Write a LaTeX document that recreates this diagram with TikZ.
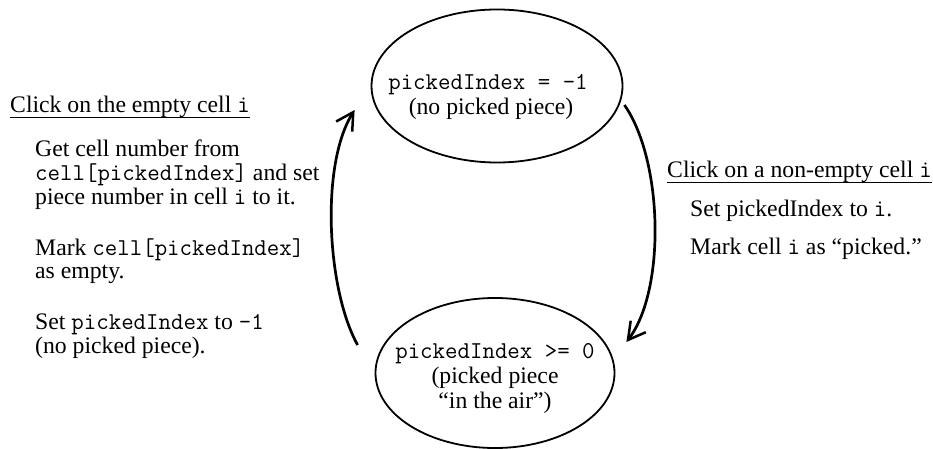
\documentclass[tikz,border=0pt]{standalone}
\usepackage{fontspec}
\setmainfont{Liberation Serif}
\usetikzlibrary{arrows.meta,shapes.geometric}

% code words inside running text (Latin Modern typewriter)
\newcommand\mono[1]{{\fontsize{24.2}{25}\ttfamily #1}}

\begin{document}
\begin{tikzpicture}[x=1pt,y=-1pt,
  txt/.style={inner sep=0pt, anchor=base west, font=\fontsize{23.7}{25}\selectfont},
  ctxt/.style={inner sep=0pt, anchor=base, font=\fontsize{23.7}{25}\selectfont},
  state/.style={draw, ellipse, line width=1.8pt, inner sep=0pt},
  uline/.style={line width=1.4pt},
  trans/.style={line width=2.7pt, -{Straight Barb[length=17pt,width=19pt,line width=2.5pt]}}]
\useasboundingbox (0,0) rectangle (933,449);

% the two states
\node[state, minimum width=251pt, minimum height=153pt] (top) at (497,86) {};
\node[state, minimum width=239pt, minimum height=150pt] (bot) at (495,373) {};

\node[ctxt] (top1) at (488,90) {\mono{pickedIndex = -1}};
\node[ctxt] (top2) at (491,115) {(no picked piece)};

\node[ctxt] (bot1) at (495,358) {\mono{pickedIndex >= 0}};
\node[ctxt] (bot2) at (495,383) {(picked piece};
\node[ctxt] (bot3) at (495,408) {“in the air”)};

% left transition: empty cell clicked
\node[txt] (lt) at (10,113) {Click on the empty cell \mono{i}};
\draw[uline] ([yshift=-4.5pt]lt.base west) -- ([yshift=-4.5pt]lt.base east);
\node[txt] (l1) at (35,157) {Get cell number from};
\node[txt] (l2) at (35,180.5) {\mono{cell[pickedIndex]} and set};
\node[txt] (l3) at (35,204) {piece number in cell \mono{i} to it.};
\node[txt] (l4) at (35,255) {Mark \mono{cell[pickedIndex]}};
\node[txt] (l5) at (35,278.5) {as empty.};
\node[txt] (l6) at (35,329.5) {Set \mono{pickedIndex} to \mono{-1}};
\node[txt] (l7) at (35,353) {(no picked piece).};

% right transition: non-empty cell clicked
\node[txt] (rt) at (667,178) {Click on a non-empty cell \mono{i}};
\draw[uline] ([yshift=-4.5pt]rt.base west) -- ([yshift=-4.5pt]rt.base east);
\node[txt] (r1) at (690,216) {Set pickedIndex to \mono{i}.};
\node[txt] (r2) at (690,254) {Mark cell \mono{i} as “picked.”};

% arrows between the states
\coordinate (rs) at ([shift={(1,19)}]top.east);
\coordinate (re) at ([shift={(11,-31)}]bot.east);
\coordinate (ls) at ([shift={(-17,-28)}]bot.west);
\coordinate (le) at ([shift={(-16,24)}]top.west);
\draw[trans] (rs) .. controls (663,160) and (666,290) .. (re);
\draw[trans] (ls) .. controls (327,290) and (320,165) .. (le);
\end{tikzpicture}
\end{document}
